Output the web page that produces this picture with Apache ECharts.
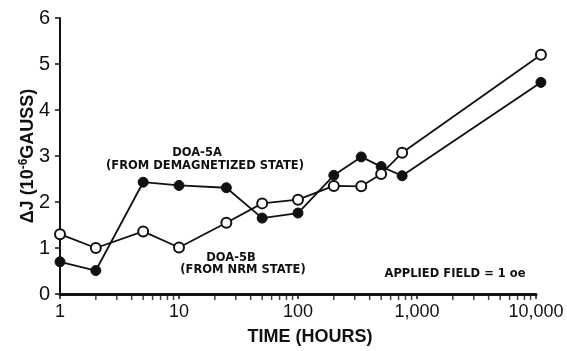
<!DOCTYPE html>
<html>
<head>
<meta charset="utf-8">
<script src="https://cdn.jsdelivr.net/npm/echarts@6/dist/echarts.min.js"></script>
<style>
  html, body { margin: 0; padding: 0; background: #fff; }
  #chart { width: 567px; height: 351px; }
</style>
</head>
<body>
<div id="chart"></div>
<script>
// Elapsed time (hours) for each measurement
const hours = [1, 2, 5, 10, 25, 50, 100, 200, 340, 500, 750, 11000];
// DOA-5A, from demagnetized state (filled circles), in 10^-6 gauss
const doa5A = [0.70, 0.51, 2.43, 2.36, 2.31, 1.65, 1.76, 2.58, 2.98, 2.77, 2.57, 4.60];
// DOA-5B, from NRM state (open circles), in 10^-6 gauss
const doa5B = [1.30, 1.00, 1.36, 1.01, 1.55, 1.97, 2.05, 2.35, 2.34, 2.61, 3.07, 5.20];
// Axis ticks
const yTicks = [0, 1, 2, 3, 4, 5, 6];
const xTickLabels = { 1: '1', 10: '10', 100: '100', 1000: '1,000', 10000: '10,000' };
const minorTickHours = [2, 3, 4, 5, 6, 7, 8, 9,
  20, 30, 40, 50, 60, 70, 80, 90,
  200, 300, 400, 500, 600, 700, 800, 900,
  2000, 3000, 4000, 5000, 6000, 7000, 8000, 9000];

const FONT = 'Liberation Sans, Arial, sans-serif';
const NOTE_FONT = 'bold 11.5px DejaVu Sans, sans-serif';
const pairs = (xs, ys) => xs.map((x, i) => [x, ys[i]]);

const chart = echarts.init(document.getElementById('chart'), null, { renderer: 'canvas' });

chart.setOption({
  animation: false,
  backgroundColor: '#ffffff',
  grid: { left: 60, right: 31, top: 18, bottom: 47, containLabel: false },
  xAxis: {
    type: 'log',
    logBase: 10,
    min: 1,
    max: 10000,
    name: 'TIME (HOURS)',
    nameLocation: 'middle',
    nameGap: 34,
    nameMoveOverlap: false,
    nameTextStyle: { color: '#111', fontFamily: FONT, fontWeight: 'bold', fontSize: 18, padding: [0, 0, 0, 24] },
    axisLine: { show: true, lineStyle: { color: '#111', width: 3 } },
    axisTick: { show: true, inside: false, length: 5, lineStyle: { color: '#111', width: 1.5 } },
    splitLine: { show: false },
    axisLabel: {
      color: '#111', fontFamily: FONT, fontSize: 18, margin: 9,
      formatter: v => xTickLabels[Math.round(v)] || ''
    }
  },
  yAxis: {
    type: 'value',
    min: yTicks[0],
    max: yTicks[yTicks.length - 1],
    interval: 1,
    name: 'ΔJ (10{sup|-6}GAUSS)',
    nameLocation: 'middle',
    nameGap: 21,
    nameRotate: 90,
    nameMoveOverlap: false,
    nameTextStyle: {
      color: '#111', fontFamily: FONT, fontWeight: 'bold', fontSize: 18,
      rich: { sup: { fontFamily: FONT, fontWeight: 'bold', fontSize: 12, verticalAlign: 'top', padding: [0, 0, 9, 0] } }
    },
    axisLine: { show: true, lineStyle: { color: '#111', width: 2 } },
    axisTick: { show: true, inside: false, length: 5, lineStyle: { color: '#111', width: 1.5 } },
    splitLine: { show: false },
    axisLabel: { color: '#111', fontFamily: FONT, fontSize: 20, margin: 10 }
  },
  series: [
    {
      // minor logarithmic ticks hanging under the time axis
      type: 'scatter',
      data: minorTickHours.map(h => [h, 0]),
      symbol: 'rect',
      symbolSize: [1.5, 5],
      symbolOffset: [0, 3.5],
      itemStyle: { color: '#111' },
      silent: true,
      z: 1
    },
    {
      name: 'DOA-5A',
      type: 'line',
      data: pairs(hours, doa5A),
      clip: false,
      symbol: 'circle',
      symbolSize: 10,
      lineStyle: { color: '#111', width: 1.8 },
      itemStyle: { color: '#111', borderColor: '#111', borderWidth: 1 },
      z: 3
    },
    {
      name: 'DOA-5B',
      type: 'line',
      data: pairs(hours, doa5B),
      clip: false,
      symbol: 'circle',
      symbolSize: 10,
      lineStyle: { color: '#111', width: 1.8 },
      itemStyle: { color: '#ffffff', borderColor: '#111', borderWidth: 2 },
      z: 4
    }
  ],
  graphic: [
    {
      type: 'text', x: 197, y: 153,
      style: { text: 'DOA-5A', fill: '#111', font: NOTE_FONT, textAlign: 'center', textVerticalAlign: 'middle' }
    },
    {
      type: 'text', x: 205, y: 166,
      style: { text: '(FROM DEMAGNETIZED STATE)', fill: '#111', font: NOTE_FONT, textAlign: 'center', textVerticalAlign: 'middle' }
    },
    {
      type: 'text', x: 231, y: 258,
      style: { text: 'DOA-5B', fill: '#111', font: NOTE_FONT, textAlign: 'center', textVerticalAlign: 'middle' }
    },
    {
      type: 'text', x: 243, y: 270,
      style: { text: '(FROM NRM STATE)', fill: '#111', font: NOTE_FONT, textAlign: 'center', textVerticalAlign: 'middle' }
    },
    {
      type: 'text', x: 455, y: 274,
      style: { text: 'APPLIED FIELD = 1 oe', fill: '#111', font: NOTE_FONT, textAlign: 'center', textVerticalAlign: 'middle' }
    }
  ]
});
</script>
</body>
</html>
